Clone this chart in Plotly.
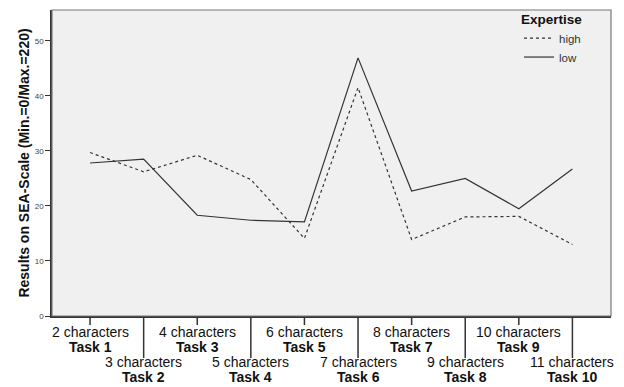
import plotly.graph_objects as go

tasks = ["Task 1", "Task 2", "Task 3", "Task 4", "Task 5",
         "Task 6", "Task 7", "Task 8", "Task 9", "Task 10"]
char_labels = ["2 characters", "3 characters", "4 characters", "5 characters",
               "6 characters", "7 characters", "8 characters", "9 characters",
               "10 characters", "11 characters"]
high = [29.7, 26.2, 29.2, 24.8, 14.1, 41.5, 13.9, 18.0, 18.1, 13.0]
low = [27.8, 28.5, 18.3, 17.4, 17.1, 46.9, 22.7, 25.0, 19.5, 26.7]
y_ticks = [0, 10, 20, 30, 40, 50]

W, H = 624, 387
L, R, T, B = 52, 13, 10, 71
ph = H - T - B
pw = W - L - R

def py(pix):
    # convert pixel y (from top) to paper coordinate
    return 1 - (pix - T) / ph

def px(pix):
    return (pix - L) / pw

fig = go.Figure()
fig.add_trace(go.Scatter(x=tasks, y=high, mode="lines", name="high",
                         line=dict(color="#333333", width=1.2, dash="3px,3px")))
fig.add_trace(go.Scatter(x=tasks, y=low, mode="lines", name="low",
                         line=dict(color="#333333", width=1.2)))

shapes = []
annotations = []
font = "Liberation Sans, Arial, sans-serif"
for i, (t, c) in enumerate(zip(tasks, char_labels)):
    even = i % 2 == 1
    tick_end = 358 if even else 325
    shapes.append(dict(type="line", xref="x", yref="paper", x0=i, x1=i,
                       y0=py(316), y1=py(tick_end),
                       line=dict(color="#333333", width=1.5)))
    base = 362 if even else 332
    annotations.append(dict(x=i, y=py(base), xref="x", yref="paper", text=c,
                            showarrow=False, yanchor="middle", xanchor="center",
                            font=dict(size=14, color="#111111", family=font)))
    annotations.append(dict(x=i, y=py(base + 14.5), xref="x", yref="paper",
                            text="<b>" + t + "</b>",
                            showarrow=False, yanchor="middle", xanchor="center",
                            font=dict(size=14, color="#111111", family=font)))

shapes.append(dict(type="rect", xref="paper", yref="paper", x0=0, x1=1, y0=0, y1=1,
                   line=dict(color="#777777", width=1.2), layer="above"))

fig.update_layout(
    width=W, height=H,
    margin=dict(l=L, r=R, t=T, b=B, autoexpand=False),
    paper_bgcolor="white", plot_bgcolor="#f0f0f0",
    font=dict(family=font, color="#111111"),
    shapes=shapes, annotations=annotations,
    legend=dict(x=px(519), xanchor="left", y=py(6), yanchor="top",
                bgcolor="rgba(0,0,0,0)", itemwidth=30, tracegroupgap=0,
                title=dict(text="<b>Expertise</b>", side="top",
                           font=dict(size=13.5, family=font, color="#111111")),
                font=dict(size=11.5, family=font, color="#333333")),
    showlegend=True,
)
fig.update_xaxes(type="category", range=[-0.71, 9.72], showticklabels=False,
                 ticks="", showgrid=False, zeroline=False, automargin=False,
                 showline=True, linecolor="#333333", linewidth=1.5)
fig.update_yaxes(range=[0, 55.6], tickvals=y_ticks, ticks="outside", ticklen=5,
                 tickcolor="#333333", tickfont=dict(size=8, color="#444444"),
                 showgrid=False, zeroline=False, automargin=False,
                 showline=True, linecolor="#333333", linewidth=1.5,
                 title=dict(text="<b>Results on SEA-Scale (Min.=0/Max.=220)</b>",
                            font=dict(size=14, family=font, color="#111111"),
                            standoff=2))
fig.write_html("out.html", config={"displayModeBar": False},
               post_script="document.body.style.margin='0';document.body.style.overflow='hidden';")
